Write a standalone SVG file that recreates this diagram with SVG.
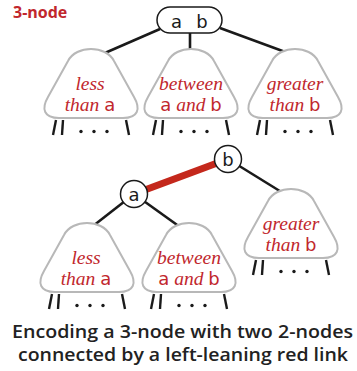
<svg xmlns="http://www.w3.org/2000/svg" xmlns:xlink="http://www.w3.org/1999/xlink" width="357" height="371" viewBox="0 0 357 371">
<style>
.tri{fill:#fff;stroke:#b8b8b8;stroke-width:2}
.leg{stroke:#1a1a1a;stroke-width:2.4;fill:none}
.dot{fill:#1a1a1a}
.edge{stroke:#1a1a1a;stroke-width:2.6;fill:none}
.red{stroke:#c4281c;stroke-width:7;fill:none}
.node{fill:#fff;stroke:#1a1a1a;stroke-width:1.5}
.key{font-family:"DejaVu Sans",sans-serif;font-size:18px;fill:#1a1a1a;text-anchor:middle}
.lab{font-family:"Liberation Serif",serif;font-style:italic;font-size:19.5px;fill:#c1272d;text-anchor:middle}
.k{font-family:"DejaVu Sans",sans-serif;font-style:normal;font-size:18px}
.title{font-family:"Open Sans","Liberation Sans",sans-serif;font-weight:700;font-size:16px;fill:#c1272d}
.cap{font-family:"Open Sans","Liberation Sans",sans-serif;font-weight:600;font-size:18px;fill:#222;text-anchor:middle}
</style>
<defs>
<path id="tri" class="tri" d="M-23,12 C-15,-4 15,-4 23,12 L43,48 C50,60 47,69 32,69 L-32,69 C-47,69 -50,60 -43,48 Z"/>
<g id="legs">
<line class="leg" x1="-35" y1="71" x2="-38" y2="86"/>
<line class="leg" x1="-28" y1="71" x2="-29" y2="86"/>
<line class="leg" x1="35" y1="71" x2="38" y2="86"/>
<circle class="dot" cx="-10" cy="82.5" r="1.7"/>
<circle class="dot" cx="3" cy="82.5" r="1.7"/>
<circle class="dot" cx="16" cy="82.5" r="1.7"/>
</g>
</defs>
<rect width="357" height="371" fill="#fff"/>
<text class="title" x="13" y="18">3-node</text>
<g id="connectors">
<line class="edge" x1="160" y1="29" x2="98" y2="56"/>
<line class="edge" x1="190" y1="33" x2="190" y2="55"/>
<line class="edge" x1="220" y1="28" x2="288" y2="53"/>
<line class="edge" x1="134" y1="194" x2="93" y2="226"/>
<line class="edge" x1="134" y1="194" x2="180" y2="227"/>
<line class="edge" x1="228" y1="159" x2="283" y2="193"/>
<line class="red" x1="134" y1="194" x2="228" y2="159"/>
</g>
<g id="node-ab">
<rect class="node" x="157" y="7" width="65" height="26" rx="13"/>
<text class="key" x="176.5" y="28">a</text>
<text class="key" x="202" y="28">b</text>
</g>
<g id="top-less">
<use xlink:href="#tri" x="91" y="49"/>
<use xlink:href="#legs" x="91" y="49"/>
<text class="lab" x="90" y="90">less</text>
<text class="lab" x="90" y="111">than <tspan class="k">a</tspan></text>
</g>
<g id="top-between">
<use xlink:href="#tri" x="191" y="49"/>
<use xlink:href="#legs" x="191" y="49"/>
<text class="lab" x="191" y="90">between</text>
<text class="lab" x="191" y="111"><tspan class="k">a</tspan> and <tspan class="k">b</tspan></text>
</g>
<g id="top-greater">
<use xlink:href="#tri" x="295" y="49"/>
<use xlink:href="#legs" x="295" y="49"/>
<text class="lab" x="295" y="90">greater</text>
<text class="lab" x="295" y="111">than <tspan class="k">b</tspan></text>
</g>
<g id="node-a">
<circle class="node" cx="134" cy="194" r="13.5"/>
<text class="key" x="134" y="200.5">a</text>
</g>
<g id="node-b">
<circle class="node" cx="228" cy="159" r="13.5"/>
<text class="key" x="228" y="165.5">b</text>
</g>
<g id="bot-less">
<use xlink:href="#tri" x="87" y="223"/>
<use xlink:href="#legs" x="87" y="223"/>
<text class="lab" x="86" y="264">less</text>
<text class="lab" x="86" y="285">than <tspan class="k">a</tspan></text>
</g>
<g id="bot-between">
<use xlink:href="#tri" x="189" y="223"/>
<use xlink:href="#legs" x="189" y="223"/>
<text class="lab" x="189" y="264">between</text>
<text class="lab" x="189" y="285"><tspan class="k">a</tspan> and <tspan class="k">b</tspan></text>
</g>
<g id="bot-greater">
<use xlink:href="#tri" x="291" y="189"/>
<use xlink:href="#legs" x="291" y="189"/>
<text class="lab" x="291" y="230">greater</text>
<text class="lab" x="291" y="251">than <tspan class="k">b</tspan></text>
</g>
<text class="cap" x="182.5" y="338" textLength="341" lengthAdjust="spacingAndGlyphs">Encoding a 3-node with two 2-nodes</text>
<text class="cap" x="183" y="361" textLength="330" lengthAdjust="spacingAndGlyphs">connected by a left-leaning red link</text>
</svg>
